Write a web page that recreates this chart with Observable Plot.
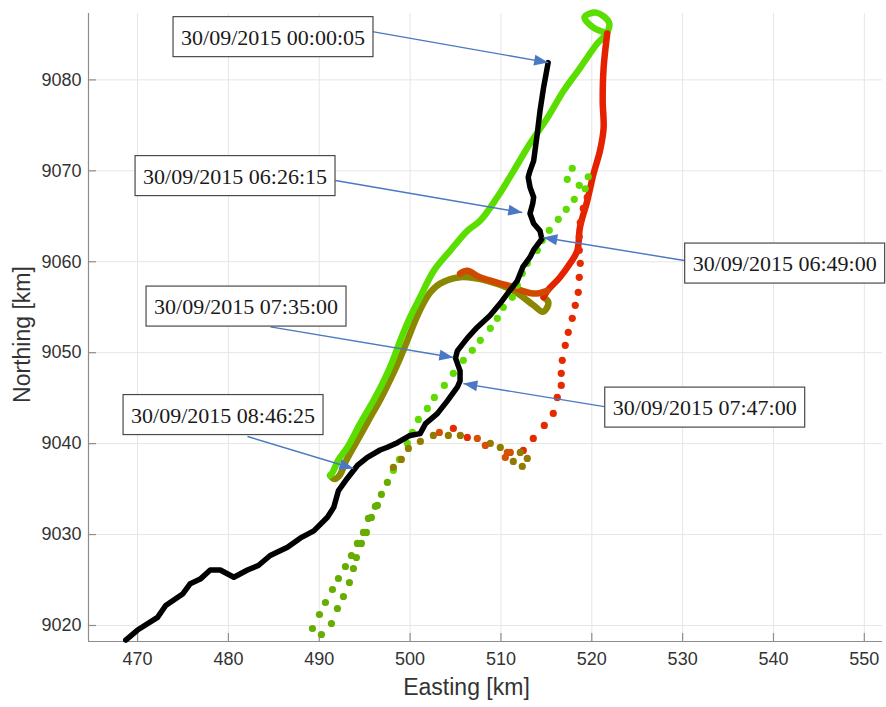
<!DOCTYPE html>
<html>
<head>
<meta charset="utf-8">
<script src="https://cdn.jsdelivr.net/npm/d3@7"></script>
<script src="https://cdn.jsdelivr.net/npm/@observablehq/plot@0.6"></script>
<style>
html, body { margin: 0; padding: 0; background: #fff; }
</style>
</head>
<body>
<div id="chart"></div>
<script>
// ---------- axes ----------
const xTicks = [470, 480, 490, 500, 510, 520, 530, 540, 550];
const yTicks = [9020, 9030, 9040, 9050, 9060, 9070, 9080];
const xDomain = [464.6, 552.0];
const yDomain = [9018.24, 9087.3];
const xTitle = "Easting [km]";
const yTitle = "Northing [km]";

// ---------- reference track (black) ----------
const blackE = [468.7, 470.0, 472.2, 473.1, 475.0, 475.8, 476.9, 478.0, 479.1, 480.6, 482.1, 483.3, 484.6, 486.5, 487.9, 489.4, 490.9, 491.6, 492.1, 493.1, 494.2, 495.3, 496.7, 497.5, 498.6, 500.0, 501.1, 501.7, 503.0, 504.1, 505.2, 505.5, 505.5, 505.0, 505.2, 506.3, 507.4, 508.8, 509.9, 510.8, 511.8, 512.4, 513.2, 513.6, 514.5, 514.3, 513.6, 513.2, 513.5, 513.6, 513.2, 513.0, 513.2, 513.6, 514.0, 514.3, 514.7, 515.2];
const blackN = [9018.4, 9019.5, 9020.9, 9022.2, 9023.5, 9024.6, 9025.1, 9026.1, 9026.1, 9025.3, 9026.1, 9026.6, 9027.7, 9028.6, 9029.6, 9030.4, 9031.9, 9033.0, 9034.8, 9036.2, 9037.6, 9038.5, 9039.3, 9039.6, 9040.1, 9040.9, 9041.1, 9042.2, 9043.3, 9044.7, 9046.2, 9046.9, 9048.0, 9049.4, 9050.2, 9051.6, 9052.8, 9054.1, 9055.4, 9056.6, 9057.9, 9059.4, 9060.5, 9061.3, 9062.5, 9063.4, 9064.2, 9065.3, 9066.4, 9067.1, 9068.2, 9069.3, 9070.0, 9071.1, 9074.1, 9076.6, 9079.2, 9081.9];

// ---------- solid coloured trajectory ----------
const solidOliveE = [514.7, 515.2, 515.1, 514.6, 513.6, 511.4, 508.5, 505.5, 503.3, 502.2, 501.4, 500.6, 499.8, 498.9, 497.9, 496.8, 495.4, 494.0, 492.9, 492.3, 491.7, 491.2];
const solidOliveN = [9056.1, 9055.6, 9055.0, 9054.5, 9055.2, 9056.8, 9057.9, 9058.3, 9057.6, 9056.6, 9055.3, 9053.6, 9051.6, 9049.4, 9047.2, 9045.0, 9042.5, 9040.0, 9038.0, 9036.6, 9036.1, 9036.5];
const solidGreenE = [491.2, 491.5, 492.1, 493.1, 494.5, 496.0, 497.1, 498.0, 498.9, 500.0, 501.1, 502.6, 504.4, 506.3, 507.7, 509.6, 511.4, 513.2, 515.1, 516.9, 518.7, 520.6, 521.7, 521.9, 520.5, 519.2, 520.1, 521.5];
const solidGreenN = [9036.5, 9036.9, 9038.2, 9039.6, 9042.2, 9044.8, 9046.9, 9048.9, 9051.3, 9053.9, 9056.1, 9059.0, 9061.2, 9063.4, 9064.5, 9067.1, 9070.0, 9073.0, 9075.8, 9078.8, 9081.3, 9084.0, 9085.2, 9086.3, 9087.4, 9086.9, 9085.8, 9085.2];
const solidRedE = [521.7, 521.3, 521.2, 521.3, 520.9, 520.2, 519.5, 518.7, 518.4, 517.6, 516.5, 515.1, 514.7];
const solidRedN = [9085.1, 9081.3, 9077.7, 9074.7, 9072.2, 9069.7, 9066.7, 9063.8, 9061.2, 9059.8, 9058.3, 9056.8, 9056.1];
const solidOrangeE = [515.1, 513.6, 510.7, 507.7, 506.3, 505.5];
const solidOrangeN = [9056.8, 9056.5, 9057.4, 9058.3, 9059.0, 9058.7];

// ---------- dotted coloured trajectory ----------
const dotGreenDarkE = [489.25, 490.24, 490.02, 491.34, 490.68, 492.00, 491.45, 492.66, 492.11, 493.32, 492.88, 493.76, 493.54, 494.09, 494.20, 494.64, 494.86, 495.19, 495.41, 495.74, 496.18, 496.40, 496.84, 497.50];
const dotGreenDarkN = [9019.67, 9019.01, 9021.21, 9020.22, 9022.53, 9021.87, 9023.96, 9023.19, 9025.17, 9024.73, 9026.49, 9026.27, 9027.70, 9027.48, 9029.02, 9029.02, 9030.23, 9030.23, 9031.77, 9031.88, 9033.09, 9033.20, 9034.41, 9035.73];
const dotGreenE = [498.16, 498.82, 499.70, 500.25, 500.91, 501.90, 502.67, 503.77, 504.76, 505.86, 506.85, 507.73, 508.83, 509.60, 510.26, 511.25, 511.80, 512.35, 512.90, 514.00, 514.55, 515.32, 516.31, 517.19, 518.07, 518.62, 517.85, 517.30, 519.61, 519.28];
const dotGreenN = [9037.05, 9038.26, 9040.02, 9041.23, 9042.66, 9043.87, 9045.08, 9046.40, 9047.73, 9049.16, 9050.26, 9051.36, 9052.68, 9053.78, 9054.99, 9056.09, 9057.41, 9058.73, 9059.83, 9061.26, 9062.36, 9063.46, 9064.67, 9065.77, 9066.87, 9068.41, 9070.28, 9069.07, 9069.35, 9068.03];
const dotRedE = [519.50, 519.06, 518.73, 518.62, 518.62, 518.73, 518.62, 518.51, 518.18, 517.85, 517.41, 517.08, 516.75, 516.64, 516.64, 516.20, 515.76, 514.77, 513.56, 512.46, 504.76, 506.30];
const dotRedN = [9067.07, 9065.86, 9064.31, 9062.75, 9061.26, 9059.83, 9058.29, 9056.64, 9055.21, 9053.78, 9052.24, 9050.81, 9049.16, 9047.73, 9046.40, 9045.08, 9043.32, 9042.00, 9040.57, 9039.25, 9041.67, 9040.68];
const dotOrangeE = [511.03, 510.48, 508.28, 507.40, 503.22, 510.70];
const dotOrangeN = [9039.03, 9038.48, 9039.80, 9040.57, 9041.23, 9039.03];
const dotOliveE = [512.90, 512.35, 511.36, 509.93, 508.83, 505.53, 504.21, 502.56, 501.13, 499.81, 499.04, 498.16, 512.13];
const dotOliveN = [9038.37, 9037.49, 9038.04, 9039.58, 9040.02, 9040.90, 9040.90, 9040.90, 9040.24, 9039.47, 9038.26, 9037.38, 9039.03];

// ---------- series colours ----------
const seriesNames = ["solid-olive", "solid-green", "solid-red", "solid-orange", "dot-green-dark", "dot-green", "dot-red", "dot-orange", "dot-olive"];
const seriesColors = ["#8a8800", "#5ade00", "#e52200", "#cf4a00", "#66ad00", "#5fdb00", "#e52a00", "#d55000", "#927c00"];

// ---------- annotations ----------
const annLabel = ["30/09/2015 00:00:05", "30/09/2015 06:26:15", "30/09/2015 06:49:00", "30/09/2015 07:35:00", "30/09/2015 07:47:00", "30/09/2015 08:46:25"];
const annTextE = [484.91, 480.73, 541.23, 481.94, 532.43, 479.41];
const annTextN = [9084.65, 9069.37, 9059.75, 9055.02, 9043.91, 9043.09];
const annFromE = [495.85, 491.78, 530.18, 484.63, 521.37, 482.10];
const annFromN = [9085.31, 9068.93, 9060.14, 9052.84, 9044.07, 9040.78];
const annToE = [515.2, 512.35, 514.66, 504.76, 505.86, 493.76];
const annToN = [9081.9, 9065.41, 9062.67, 9049.47, 9046.60, 9037.26];

// ---------- build tables ----------
const rows = (E, N, series) => E.map((e, i) => ({e, n: N[i], series}));
const black = rows(blackE, blackN, "black");
const solid = [
  ...rows(solidOliveE, solidOliveN, "solid-olive"),
  ...rows(solidGreenE, solidGreenN, "solid-green"),
  ...rows(solidRedE, solidRedN, "solid-red"),
  ...rows(solidOrangeE, solidOrangeN, "solid-orange")
];
const dots = [
  ...rows(dotGreenDarkE, dotGreenDarkN, "dot-green-dark"),
  ...rows(dotGreenE, dotGreenN, "dot-green"),
  ...rows(dotRedE, dotRedN, "dot-red"),
  ...rows(dotOliveE, dotOliveN, "dot-olive"),
  ...rows(dotOrangeE, dotOrangeN, "dot-orange")
];
const ann = annLabel.map((label, i) => ({
  label, tx: annTextE[i], ty: annTextN[i],
  fx: annFromE[i], fy: annFromN[i], toX: annToE[i], toY: annToN[i]
}));

const axisColor = "#8e8e8e";
const textColor = "#333333";

const chart = Plot.plot({
  width: 886,
  height: 707,
  marginLeft: 88,
  marginRight: 4,
  marginTop: 13,
  marginBottom: 66,
  style: {background: "#fff", fontFamily: "'Liberation Sans', Arial, Helvetica, sans-serif", overflow: "visible"},
  x: {domain: xDomain},
  y: {domain: yDomain},
  color: {type: "ordinal", domain: seriesNames, range: seriesColors},
  marks: [
    Plot.gridX(xTicks, {stroke: "#e6e6e6", strokeOpacity: 1, strokeWidth: 1}),
    Plot.gridY(yTicks, {stroke: "#e6e6e6", strokeOpacity: 1, strokeWidth: 1}),
    Plot.ruleX([xDomain[0]], {stroke: axisColor, strokeWidth: 1.2}),
    Plot.ruleY([yDomain[0]], {stroke: axisColor, strokeWidth: 1.2}),
    Plot.ruleX(xTicks, {y1: yDomain[0], y2: yDomain[0], insetTop: -8, stroke: axisColor, strokeWidth: 1.2}),
    Plot.ruleY(yTicks, {x1: xDomain[0], x2: xDomain[0], insetRight: -8, stroke: axisColor, strokeWidth: 1.2}),
    Plot.axisX(xTicks, {tickSize: 0, tickPadding: 11, fontSize: 18, color: textColor, label: null, tickFormat: d => String(d)}),
    Plot.axisY(yTicks, {tickSize: 0, tickPadding: 7, fontSize: 18, color: textColor, label: null, tickFormat: d => String(d)}),
    Plot.text([xTitle], {text: d => d, frameAnchor: "bottom", textAnchor: "middle", lineAnchor: "bottom", dx: -19, dy: 53, fontSize: 23, fill: textColor}),
    Plot.text([yTitle], {text: d => d, frameAnchor: "left", textAnchor: "middle", lineAnchor: "middle", rotate: -90, dx: -66, dy: 7, fontSize: 23, fill: textColor}),
    Plot.line(solid, {x: "e", y: "n", z: "series", stroke: "series", strokeWidth: 6.5, strokeLinecap: "round", strokeLinejoin: "round", curve: "catmull-rom"}),
    Plot.dot(dots, {x: "e", y: "n", fill: "series", r: 3.6, stroke: "none"}),
    Plot.line(black, {x: "e", y: "n", stroke: "#000", strokeWidth: 5.5, strokeLinecap: "round", strokeLinejoin: "round"}),
    Plot.link(ann, {x1: "fx", y1: "fy", x2: "toX", y2: "toY", stroke: "#4a78c2", strokeWidth: 1.4}),
    Plot.text(ann, {x: "tx", y: "ty", text: "label", fontFamily: "'Liberation Serif', 'Times New Roman', serif", fontSize: 22, fill: "#1a1a1a"})
  ]
});

document.getElementById("chart").appendChild(chart);

// arrowheads (filled triangles) for the annotation links
const svg = d3.select(chart);
const defs = svg.insert("defs", ":first-child");
defs.append("marker")
  .attr("id", "arrowhead")
  .attr("viewBox", "-15 -7 16 14")
  .attr("markerWidth", 16)
  .attr("markerHeight", 14)
  .attr("markerUnits", "userSpaceOnUse")
  .attr("refX", 0)
  .attr("refY", 0)
  .attr("orient", "auto")
  .append("path")
  .attr("d", "M0,0L-14,-5.5L-14,5.5Z")
  .attr("fill", "#4a78c2");
svg.selectAll('g[aria-label="link"] path').attr("marker-end", "url(#arrowhead)");

// white label boxes behind annotation texts
svg.selectAll('g[aria-label="text"]')
  .filter(function () { return (this.getAttribute("font-family") || "").includes("Serif"); })
  .selectAll("text")
  .each(function () {
    const b = this.getBBox();
    d3.select(this.parentNode).insert("rect", () => this)
      .attr("transform", this.getAttribute("transform"))
      .attr("x", b.x - 8)
      .attr("y", b.y - 8)
      .attr("width", b.width + 16)
      .attr("height", b.height + 15)
      .attr("fill", "#fff")
      .attr("stroke", "#4a4a4a")
      .attr("stroke-width", 1.2);
  });
</script>
</body>
</html>
